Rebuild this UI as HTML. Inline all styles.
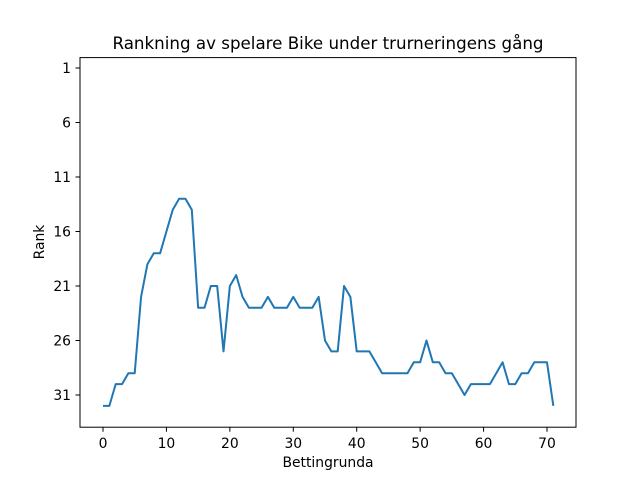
<!DOCTYPE html>
<html><head><meta charset="utf-8"><style>
body{margin:0;background:#fff;font-family:"DejaVu Sans","Liberation Sans",sans-serif;}
</style></head><body>
<svg width="640" height="480" xmlns="http://www.w3.org/2000/svg" font-family="DejaVu Sans, Liberation Sans, sans-serif">
<rect width="640" height="480" fill="#fff"/>
<text x="328" y="49" font-size="16.7" text-anchor="middle">Rankning av spelare Bike under trurneringens gång</text>
<g id="axes"></g>
<path id="line" fill="none" stroke="#1f77b4" stroke-width="2" stroke-linejoin="round"/>
<rect x="80" y="57.6" width="496" height="369.6" fill="none" stroke="#000" stroke-width="1"/>
<text x="328" y="467" font-size="13.9" text-anchor="middle">Bettingrunda</text>
<text transform="translate(44,242) rotate(-90)" font-size="13.9" text-anchor="middle">Rank</text>
</svg>
<script>
const ranks=[32,32,30,30,29,29,22,19,18,18,16,14,13,13,14,23,23,21,21,27,21,20,22,23,23,23,22,23,23,23,22,23,23,23,22,26,27,27,21,22,27,27,27,28,29,29,29,29,29,28,28,26,28,28,29,29,30,31,30,30,30,30,29,28,30,30,29,29,28,28,28,32];
const xTicks=[0,10,20,30,40,50,60,70];
const yTicks=[1,6,11,16,21,26,31];
const NS="http://www.w3.org/2000/svg";
function xs(v){return 103+(v)*(444/70);}
function ys(r){return 68+(r-1)*(327/30);}
const g=document.getElementById('axes');
xTicks.forEach(t=>{
 const l=document.createElementNS(NS,'line');
 l.setAttribute('x1',xs(t));l.setAttribute('x2',xs(t));l.setAttribute('y1',427.2);l.setAttribute('y2',431.7);l.setAttribute('stroke','#000');
 
 
 g.appendChild(l);
 const tx=document.createElementNS(NS,'text');
 tx.setAttribute('x',xs(t));tx.setAttribute('y',448);tx.setAttribute('font-size','13.9');tx.setAttribute('text-anchor','middle');tx.textContent=t;
 
 
 g.appendChild(tx);
});
yTicks.forEach(t=>{
 const l=document.createElementNS(NS,'line');
 l.setAttribute('x1',75.5);l.setAttribute('x2',80);l.setAttribute('y1',ys(t));l.setAttribute('y2',ys(t));l.setAttribute('stroke','#000');
 
 
 g.appendChild(l);
 const tx=document.createElementNS(NS,'text');
 tx.setAttribute('x',71);tx.setAttribute('y',ys(t)+5);tx.setAttribute('font-size','13.9');tx.setAttribute('text-anchor','end');tx.textContent=t;
 
 
 g.appendChild(tx);
});
document.getElementById('line').setAttribute('d',ranks.map((r,i)=>(i?'L':'M')+xs(i).toFixed(2)+','+ys(r).toFixed(2)).join(''));
</script>
</body></html>
